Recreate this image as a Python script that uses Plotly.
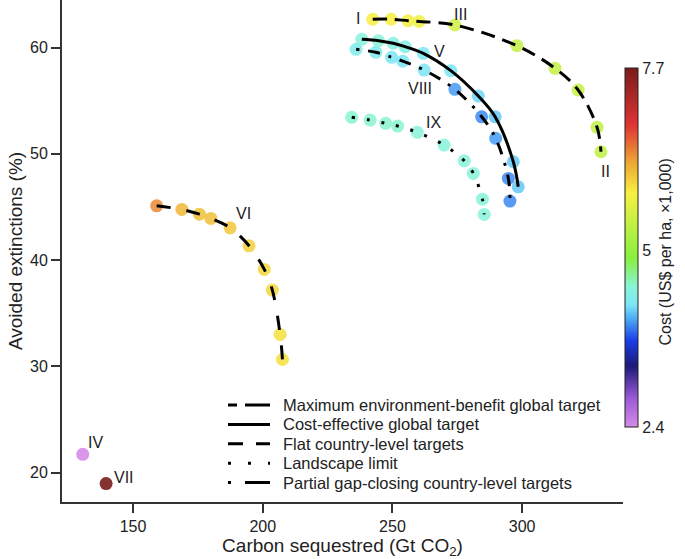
"""Carbon vs avoided extinctions for the restoration scenarios, coloured by cost."""

import plotly.graph_objects as go

# scenario I-III-II: maximum environment-benefit global target
max_env_carbon = [242.4, 249.5, 256.0, 260.3, 274.1, 298.0, 312.7, 321.6, 328.9, 330.4]
max_env_avoided = [62.66, 62.66, 62.52, 62.45, 62.12, 60.17, 58.04, 56.0, 52.49, 50.19]
max_env_cost = [5.85, 5.85, 5.8, 5.8, 5.5, 5.42, 5.42, 5.42, 5.38, 5.38]

# scenario V: cost-effective global target
cost_eff_carbon = [238.2, 244.6, 250.3, 254.9, 261.9, 272.5, 283.1, 289.6, 296.6, 298.5]
cost_eff_avoided = [60.77, 60.64, 60.40, 60.08, 59.45, 57.82, 55.43, 53.48, 49.25, 46.89]
cost_eff_cost = [4.45, 4.45, 4.4, 4.35, 4.25, 4.2, 4.15, 4.1, 4.1, 4.1]

# scenario VI: flat country-level targets
flat_carbon = [159.1, 168.8, 175.6, 180.0, 187.4, 194.7, 200.6, 203.7, 206.7, 207.6]
flat_avoided = [45.10, 44.76, 44.32, 43.92, 43.03, 41.34, 39.12, 37.17, 33.0, 30.64]
flat_cost = [6.45, 6.2, 6.15, 6.15, 6.1, 6.05, 6.0, 6.0, 5.95, 5.95]

# scenario IX: landscape limit
landscape_carbon = [234.3, 241.4, 247.4, 252.0, 259.6, 269.9, 277.7, 281.2, 284.7, 285.4]
landscape_avoided = [53.43, 53.17, 52.86, 52.61, 52.02, 50.82, 49.34, 48.15, 45.73, 44.29]
landscape_cost = [4.5, 4.5, 4.5, 4.5, 4.45, 4.45, 4.45, 4.45, 4.45, 4.45]

# scenario VIII: partial gap-closing country-level targets
partial_carbon = [236.0, 243.6, 249.7, 254.0, 262.2, 274.1, 284.4, 289.8, 294.7, 295.3]
partial_avoided = [59.83, 59.55, 59.08, 58.71, 57.88, 56.06, 53.48, 51.45, 47.68, 45.55]
partial_cost = [4.3, 4.25, 4.2, 4.2, 4.2, 3.95, 3.9, 3.95, 3.9, 3.9]

# single scenarios IV and VII
single_carbon = [130.6, 139.6]
single_avoided = [21.72, 18.96]
single_cost = [2.4, 7.7]

# roman numeral labels
label_text = ["I", "III", "II", "V", "VIII", "IX", "VI", "IV", "VII"]
label_x = [236.7, 276.4, 332.0, 268.3, 260.6, 265.7, 192.4, 135.6, 146.6]
label_y = [62.7, 63.15, 48.3, 59.6, 56.1, 52.9, 44.4, 22.79, 19.53]

legend_names = [
    "Maximum environment-benefit global target",
    "Cost-effective global target",
    "Flat country-level targets",
    "Landscape limit",
    "Partial gap-closing country-level targets",
]
# dash used in the legend key (the key is shorter than the curves)
legend_dash = ["9px,8px,25px", "solid", "15px,13px,14px", "3px,17px", "3px,14px,25px"]

cost_scale = [
    [0.0, "#d68be8"], [0.08, "#9b5ad6"], [0.17, "#1c1a78"], [0.24, "#1a3ce8"],
    [0.30, "#4aa8f4"], [0.34, "#7ae6f4"], [0.39, "#88f4d8"], [0.47, "#88f040"],
    [0.57, "#c4f044"], [0.65, "#f8f040"], [0.74, "#eca434"], [0.84, "#e03434"],
    [1.0, "#7a1c1c"],
]

series = [
    (max_env_carbon, max_env_avoided, max_env_cost, "14px,8px"),
    (cost_eff_carbon, cost_eff_avoided, cost_eff_cost, "solid"),
    (flat_carbon, flat_avoided, flat_cost, "14px,16px"),
    (landscape_carbon, landscape_avoided, landscape_cost, "3px,12px"),
    (partial_carbon, partial_avoided, partial_cost, "3px,9px,12px,9px"),
]

W, H = 685, 559
ML, MR, MT, MB = 62, 62, 0, 57


def px_to_paper(px, py):
    # pixel position in the figure -> paper coordinates of the plot area
    return (px - ML) / (W - ML - MR), (H - MB - py) / (H - MT - MB)


fig = go.Figure()

# points first so the lines sit on top
for xs, ys, cs, _ in series:
    fig.add_trace(go.Scatter(
        x=xs, y=ys, mode="markers", showlegend=False, hoverinfo="skip",
        marker=dict(size=13, color=cs, coloraxis="coloraxis", opacity=0.85),
    ))
fig.add_trace(go.Scatter(
    x=single_carbon, y=single_avoided, mode="markers", showlegend=False,
    marker=dict(size=13, color=single_cost, coloraxis="coloraxis", opacity=0.9),
))

for (xs, ys, _, dash), name in zip(series, legend_names):
    fig.add_trace(go.Scatter(
        x=xs, y=ys, mode="lines", name=name, line_shape="spline", showlegend=False,
        line=dict(color="black", width=3, dash=dash),
    ))

for t, x, y in zip(label_text, label_x, label_y):
    fig.add_annotation(x=x, y=y, text=t, showarrow=False,
                       font=dict(size=16, color="#222"))

# legend key drawn by hand so the row spacing matches
for i, (name, dash) in enumerate(zip(legend_names, legend_dash)):
    row_y = 405 + i * 19.4
    x0, y0 = px_to_paper(228, row_y)
    x1, _ = px_to_paper(270, row_y)
    xt, _ = px_to_paper(281, row_y)
    fig.add_shape(type="line", xref="paper", yref="paper", x0=x0, x1=x1, y0=y0, y1=y0,
                  line=dict(color="black", width=3, dash=dash))
    fig.add_annotation(xref="paper", yref="paper", x=xt, y=y0, text=name,
                       showarrow=False, xanchor="left", yanchor="middle",
                       font=dict(size=16.5, color="#222"))

# colour bar title, placed by hand a little further out than plotly puts it
cb_x, cb_y = px_to_paper(670, 252)
fig.add_annotation(xref="paper", yref="paper", x=cb_x, y=cb_y, xshift=5,
                   text="Cost (US$ per ha, ×1,000)", textangle=-90, showarrow=False,
                   font=dict(size=16, color="#222"))

axis_style = dict(
    showline=True, linecolor="#333", linewidth=2, ticks="outside",
    ticklen=9, tickwidth=1.5, tickcolor="#333", showgrid=False, zeroline=False,
    tickfont=dict(size=16, color="#222"),
)

fig.update_layout(
    width=W, height=H,
    margin=dict(l=ML, r=MR, t=MT, b=MB),
    plot_bgcolor="white", paper_bgcolor="white",
    font=dict(family="Liberation Sans, Arial, sans-serif", size=16, color="#222"),
    xaxis=dict(range=[122.6, 338.9], tickvals=[150, 200, 250, 300],
               title=dict(text="Carbon sequestred (Gt CO<sub>2</sub>)", standoff=4),
               **axis_style),
    yaxis=dict(range=[17.23, 64.47], tickvals=[20, 30, 40, 50, 60],
               title=dict(text="Avoided extinctions (%)", standoff=2),
               **axis_style),
    coloraxis=dict(
        cmin=2.4, cmax=7.7, colorscale=cost_scale,
        colorbar=dict(
            x=1.004, xanchor="left", y=0.507, yanchor="middle",
            len=0.7155, lenmode="fraction", thickness=13,
            xpad=0, ypad=0, outlinewidth=1, outlinecolor="#222",
            tickvals=[2.4, 5, 7.7], ticktext=["2.4", "5", "7.7"], ticks="",
            tickfont=dict(size=16, color="#222"),
        ),
    ),
)

fig.write_html("out.html", config={"displayModeBar": False},
               post_script="document.body.style.margin='0';")
